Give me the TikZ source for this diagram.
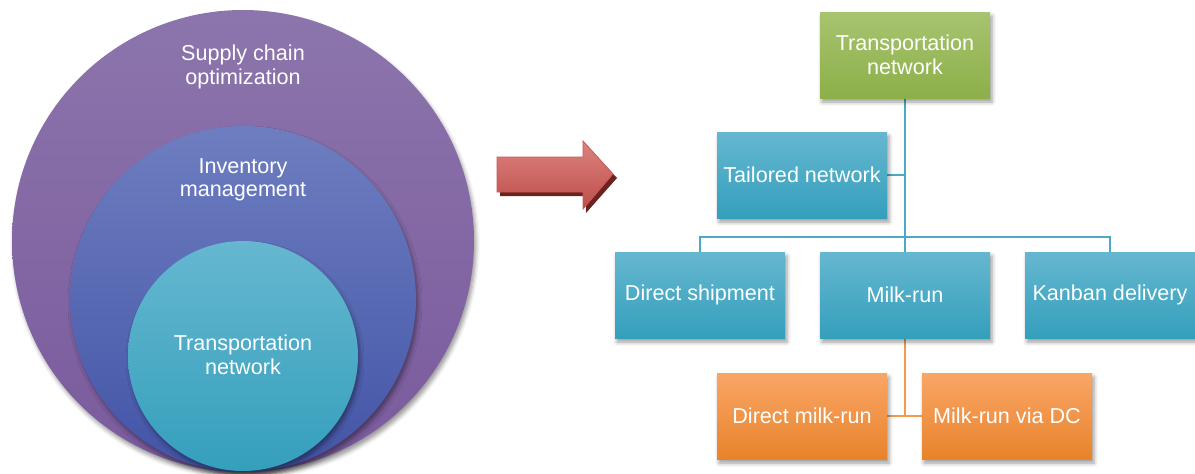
\documentclass[tikz,border=0pt]{standalone}
\usepackage{fontspec}
\setmainfont{Liberation Sans}
\usetikzlibrary{shadows.blur}

\definecolor{purpT}{HTML}{8C75AC}
\definecolor{purpB}{HTML}{7A5A9D}
\definecolor{blueT}{HTML}{6E7EC0}
\definecolor{blueB}{HTML}{4354A7}
\definecolor{tealT}{HTML}{66B7D0}
\definecolor{tealB}{HTML}{349FBC}
\definecolor{greenT}{HTML}{A7C470}
\definecolor{greenB}{HTML}{8CAF48}
\definecolor{orT}{HTML}{F9A666}
\definecolor{orB}{HTML}{E8832B}
\definecolor{tline}{HTML}{4BA9C6}
\definecolor{oline}{HTML}{F29A52}
\definecolor{redT}{HTML}{DC8380}
\definecolor{redB}{HTML}{BE4D4A}
\definecolor{redE}{HTML}{C95754}
\definecolor{redS}{HTML}{6A2321}

\newcommand{\lblfont}{\fontsize{21.6}{23.5}\selectfont}

\pgfdeclarelayer{background}
\pgfsetlayers{background,main}

\tikzset{
  softshadow/.style={blur shadow={shadow xshift=2pt, shadow yshift=-4pt,
      shadow blur radius=4pt, shadow opacity=40}},
  box/.style={rectangle, minimum width=170pt, minimum height=86pt, inner sep=0pt,
      text=white, font=\lblfont, align=center, softshadow},
  tealbox/.style={box, top color=tealT, bottom color=tealB},
  greenbox/.style={box, top color=greenT, bottom color=greenB},
  orbox/.style={box, top color=orT, bottom color=orB},
  ring/.style={circle, inner sep=0pt, softshadow},
  ringtext/.style={text=white, font=\lblfont, align=center},
  tconn/.style={draw=tline, line width=2.8pt},
  oconn/.style={draw=oline, line width=2.8pt}
}

\begin{document}
\begin{tikzpicture}[x=1pt, y=-1pt]
  \useasboundingbox (0,0) rectangle (1195,474);

  % nested scopes
  \node[ring, minimum size=462pt, top color=purpT, bottom color=purpB] (outer) at (243,241) {};
  \node[ring, minimum size=346pt, top color=blueT, bottom color=blueB] (middle) at (243,299) {};
  \node[ring, minimum size=230pt, top color=tealT, bottom color=tealB] (inner) at (243,356) {};
  \node[ringtext] (outerlbl) at (243,67) {Supply chain\\optimization};
  \node[ringtext] (middlelbl) at (243,180) {Inventory\\management};
  \node[ringtext] (innerlbl) at (243,355) {Transportation\\network};

  % block arrow with its dark offset shadow
  \fill[redS] (500,161) -- (586,161) -- (586,145) -- (617,178) -- (586,213) -- (586,196) -- (500,196) -- cycle;
  \draw[redE, line width=0.8pt, top color=redT, bottom color=redB]
    (497,157) -- (583,157) -- (583,141) -- (613,174) -- (583,209) -- (583,192) -- (497,192) -- cycle;

  % hierarchy boxes
  \node[greenbox] (top) at (905,55) {Transportation\\network};
  \node[tealbox] (tail) at (802,175) {Tailored network};
  \node[tealbox] (direct) at (700,295) {Direct shipment};
  \node[tealbox] (milk) at (905,295) {Milk-run};
  \node[tealbox] (kanban) at (1110,295) {Kanban delivery};
  \node[orbox] (dmr) at (802,416) {Direct milk-run};
  \node[orbox] (mdc) at (1007,416) {Milk-run via DC};
  \coordinate (bus) at (905,237);

  % connectors behind the boxes
  \begin{pgfonlayer}{background}
    \draw[tconn] (top.south) -- (milk.north);
    \draw[tconn] (tail.east) -- (tail.east -| top.south);
    \draw[tconn] (direct.north) |- (bus) -| (kanban.north);
    \draw[oconn] (milk.south) -- (milk.south |- dmr.east);
    \draw[oconn] (dmr.east) -- (mdc.west);
  \end{pgfonlayer}
\end{tikzpicture}
\end{document}
